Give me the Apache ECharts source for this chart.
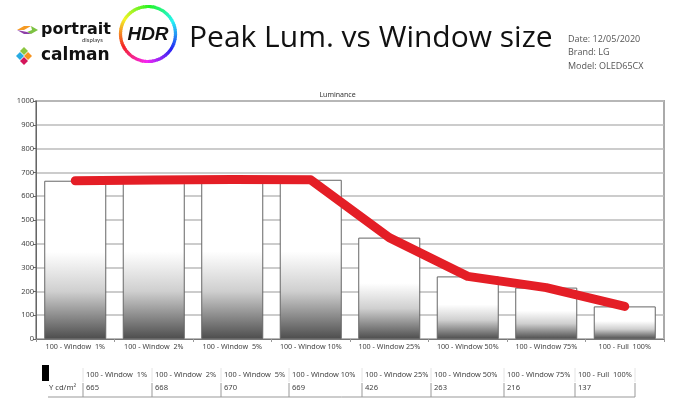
<!DOCTYPE html>
<html>
<head>
<meta charset="utf-8">
<script src="https://cdn.jsdelivr.net/npm/echarts@6/dist/echarts.min.js"></script>
<style>
  html, body { margin: 0; padding: 0; background: #fff; }
  #chart { width: 675px; height: 399px; }
</style>
</head>
<body>
<div id="chart"></div>
<script>
  // data
  const categories = ['100 - Window  1%', '100 - Window  2%', '100 - Window  5%', '100 - Window 10%',
    '100 - Window 25%', '100 - Window 50%', '100 - Window 75%', '100 - Full  100%'];
  const luminance = [665, 668, 670, 669, 426, 263, 216, 137];
  const rowLabel = 'Y cd/m²';
  const infoLines = ['Date: 12/05/2020', 'Brand: LG', 'Model: OLED65CX'];

  const chart = echarts.init(document.getElementById('chart'));

  // header: logos, title, info
  const header = [];
  // rainbow ring of the HDR badge
  const segs = 72;
  for (let i = 0; i < segs; i++) {
    const a0 = (i / segs) * 360, a1 = ((i + 1.3) / segs) * 360;
    header.push({
      type: 'arc',
      shape: { cx: 148, cy: 34, r: 27.5, startAngle: a0 * Math.PI / 180, endAngle: a1 * Math.PI / 180 },
      style: { stroke: 'hsl(' + ((a0 + 210) % 360) + ',90%,55%)', lineWidth: 3.2, fill: null }
    });
  }
  header.push({ type: 'text', style: { x: 148, y: 35, text: 'HDR', align: 'center', verticalAlign: 'middle',
    font: 'italic bold 19px "Liberation Sans"', fill: '#111' } });

  // portrait icon
  header.push({ type: 'polygon', shape: { points: [[17, 30], [24, 26], [31, 26], [24, 30]] }, style: { fill: '#f59a23' } });
  header.push({ type: 'polygon', shape: { points: [[31, 26], [38, 30], [31, 34], [27, 32], [32, 30]] }, style: { fill: '#7cc242' } });
  header.push({ type: 'polygon', shape: { points: [[17, 30], [24, 34], [31, 34], [27, 32], [22, 31]] }, style: { fill: '#8e3fa8' } });
  header.push({ type: 'text', style: { x: 41, y: 30, text: 'portrait', verticalAlign: 'middle',
    font: 'bold 16px "DejaVu Sans"', fill: '#111' } });
  header.push({ type: 'text', style: { x: 82, y: 40, text: 'displays', verticalAlign: 'middle',
    font: '6px "Lato"', fill: '#333' } });

  // calman icon
  const dia = (cx, cy, c) => ({ type: 'polygon', shape: { points: [[cx, cy - 4], [cx + 4, cy], [cx, cy + 4], [cx - 4, cy]] }, style: { fill: c } });
  header.push(dia(24, 51, '#8cc63f'));
  header.push(dia(20, 56, '#29abe2'));
  header.push(dia(28, 56, '#f7931e'));
  header.push(dia(24, 61, '#d4145a'));
  header.push({ type: 'text', style: { x: 41, y: 56, text: 'calman', verticalAlign: 'middle',
    font: 'bold 17px "DejaVu Sans"', fill: '#111' } });

  header.push({ type: 'text', style: { x: 189, y: 38, text: 'Peak Lum. vs Window size', verticalAlign: 'middle',
    font: '30px "Open Sans"', fill: '#111' } });
  infoLines.forEach((t, i) => {
    header.push({ type: 'text', style: { x: 568, y: 39 + i * 13.5, text: t, verticalAlign: 'middle',
      font: '9px "Open Sans"', fill: '#555' } });
  });

  // data table under the chart
  const colX = [83, 152, 221, 289, 362, 431, 504, 575, 635];
  const table = [];
  table.push({ type: 'rect', shape: { x: 42, y: 365, width: 7, height: 16 }, style: { fill: '#000' } });
  categories.forEach((c, i) => {
    table.push({ type: 'text', style: { x: colX[i] + 3, y: 375, text: c, verticalAlign: 'middle',
      font: '7.4px "Noto Sans"', fill: '#444' } });
    table.push({ type: 'text', style: { x: colX[i] + 3, y: 388, text: String(luminance[i]), verticalAlign: 'middle',
      font: '7.6px "Noto Sans"', fill: '#444' } });
  });
  colX.forEach((x, i) => {
    table.push({ type: 'line', shape: { x1: x, y1: 368, x2: x, y2: 382 }, style: { stroke: '#e4e4e4', lineWidth: 1 } });
    table.push({ type: 'line', shape: { x1: x, y1: 383, x2: x, y2: 397 }, style: { stroke: '#999', lineWidth: 1 } });
  });
  table.push({ type: 'text', style: { x: 49, y: 388, text: rowLabel, verticalAlign: 'middle',
    font: '7.6px "Noto Sans"', fill: '#444' } });
  table.push({ type: 'line', shape: { x1: 48, y1: 397, x2: 635, y2: 397 }, style: { stroke: '#999', lineWidth: 1 } });

  const option = {
    animation: false,
    backgroundColor: '#fff',
    title: {
      text: 'Luminance', left: 'center', top: 91, padding: 0,
      textStyle: { fontSize: 7, fontWeight: 'normal', color: '#333', fontFamily: 'Noto Sans' }
    },
    grid: { left: 36, right: 11, top: 101, bottom: 60, show: true, borderColor: '#aaa', borderWidth: 2 },
    xAxis: {
      type: 'category',
      data: categories,
      axisLine: { lineStyle: { color: '#777', width: 1 } },
      axisTick: { show: true, length: 3, lineStyle: { color: '#999' } },
      axisLabel: { interval: 0, fontSize: 7.2, color: '#444', margin: 4, fontFamily: 'Noto Sans' }
    },
    yAxis: {
      type: 'value', min: 0, max: 1000, interval: 100,
      axisLine: { show: true, lineStyle: { color: '#666', width: 1 } },
      axisTick: { show: true, length: 3, lineStyle: { color: '#666' } },
      axisLabel: { fontSize: 7.5, color: '#444', margin: 2, fontFamily: 'Noto Sans', formatter: v => String(v) },
      splitLine: { lineStyle: { color: '#bbb', width: 1.5 } }
    },
    series: [
      {
        type: 'bar',
        data: luminance,
        barWidth: '79%',
        itemStyle: {
          borderColor: '#666',
          borderWidth: 1,
          color: new echarts.graphic.LinearGradient(0, 0, 0, 1, [
            { offset: 0, color: '#ffffff' },
            { offset: 0.45, color: '#ffffff' },
            { offset: 0.7, color: '#cfcfcf' },
            { offset: 1, color: '#4d4d4d' }
          ])
        }
      },
      {
        type: 'line',
        data: luminance,
        symbol: 'none',
        lineStyle: { color: '#e41e26', width: 9, cap: 'round', join: 'round' },
        z: 5
      }
    ],
    graphic: header.concat(table)
  };
  chart.setOption(option);
</script>
</body>
</html>
